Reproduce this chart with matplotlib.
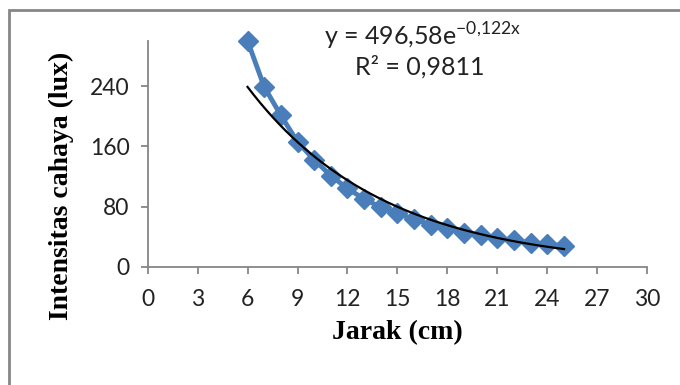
import numpy as np
import matplotlib
matplotlib.use('Agg')
import matplotlib.pyplot as plt

# data
jarak = [6, 7, 8, 9, 10, 11, 12, 13, 14, 15, 16, 17, 18, 19, 20, 21, 22, 23, 24, 25]
intensitas = [300, 239, 201, 166, 142, 121, 104, 90, 79, 71, 63, 56, 51, 45, 42, 38, 35, 32, 30, 28]

# exponential trendline y = a * exp(b x)
fit_a = 496.58
fit_b = -0.122

x_ticks = [0, 3, 6, 9, 12, 15, 18, 21, 24, 27, 30]
y_ticks = [0, 80, 160, 240]

gray = '#868686'
blue = '#4A7EBB'

fig = plt.figure(figsize=(6.8, 3.85), dpi=100)
ax = fig.add_axes([0.217, 0.307, 0.735, 0.587])

ax.plot(jarak, intensitas, color=blue, linewidth=3.5, marker='D', markersize=10.5,
        markerfacecolor=blue, markeredgecolor=blue, zorder=2, clip_on=False)

xt = np.linspace(min(jarak), max(jarak), 200)
ax.plot(xt, fit_a * np.exp(fit_b * xt), color='black', linewidth=1.6, zorder=3)

ax.set_xlim(0, 30)
ax.set_ylim(0, 300)
ax.set_xticks(x_ticks)
ax.set_yticks(y_ticks)

for side in ['top', 'right']:
    ax.spines[side].set_visible(False)
for side in ['left', 'bottom']:
    ax.spines[side].set_color(gray)
    ax.spines[side].set_linewidth(1.3)
ax.tick_params(direction='out', length=5, width=1.3, color=gray, labelsize=16.5,
               labelcolor='#222222')
ax.tick_params(axis='x', pad=11)
ax.tick_params(axis='y', pad=8)
for lab in ax.get_xticklabels() + ax.get_yticklabels():
    lab.set_family('Lato')

ax.set_xlabel('Jarak (cm)', family='Liberation Serif', fontweight='bold', fontsize=20, labelpad=7)
ax.set_ylabel('Intensitas cahaya (lux)', family='Liberation Serif', fontweight='bold', fontsize=20)
ax.yaxis.set_label_coords(-0.173, 0.36)
ax.yaxis.label.set_va('center')

fig.text(0.622, 0.905, r'y = 496,58e$^{\mathregular{-0{,}122x}}$', family='Lato', fontsize=18,
         ha='center', va='center', color='#222222')
fig.text(0.618, 0.826, 'R² = 0,9811', family='Lato', fontsize=18,
         ha='center', va='center', color='#222222')

# outer frame of the chart
frame = plt.Rectangle((9 / 680, -0.05), 1.2, (385 - 10) / 385 + 0.05, transform=fig.transFigure,
                      fill=False, edgecolor=gray, linewidth=2)
fig.add_artist(frame)

fig.savefig('out.png', dpi=100)
